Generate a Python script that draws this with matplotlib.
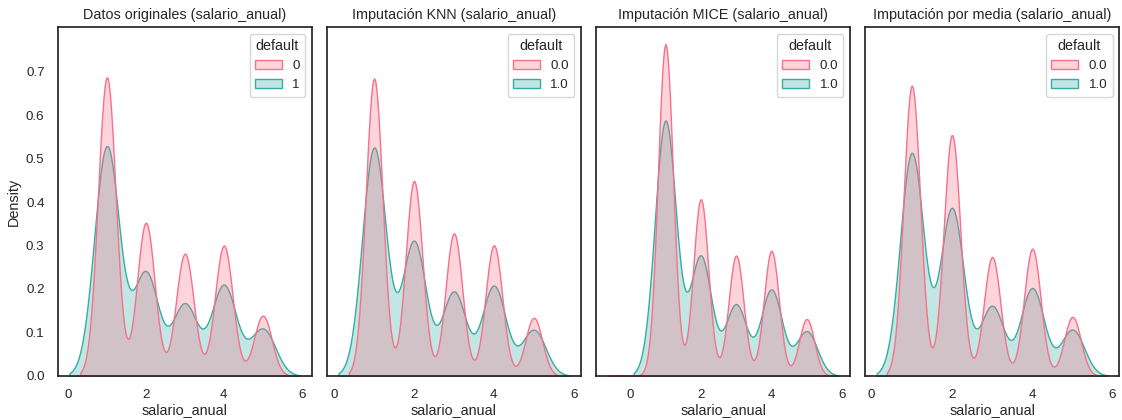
import numpy as np
import pandas as pd
import matplotlib
matplotlib.use("Agg")
import matplotlib.pyplot as plt
import seaborn as sns

# salario_anual tramos (0 only appears after MICE imputation)
salario_valores = [0, 1, 2, 3, 4, 5]

# row counts per tramo, split by default = 0 / default = 1
orig_default0 = [0, 2929, 1502, 1199, 1279, 591]
orig_default1 = [0, 636, 285, 198, 251, 130]

knn_default0 = [0, 3249, 2130, 1557, 1428, 635]
knn_default1 = [0, 705, 415, 259, 278, 142]

mice_default0 = [1, 3681, 1962, 1336, 1389, 632]
mice_default1 = [0, 797, 373, 222, 269, 139]

media_default0 = [0, 3124, 2592, 1280, 1369, 635]
media_default1 = [0, 676, 508, 211, 266, 140]

titulos = [
    "Datos originales (salario_anual)",
    "Imputación KNN (salario_anual)",
    "Imputación MICE (salario_anual)",
    "Imputación por media (salario_anual)",
]


def armar_df(c0, c1, etiquetas):
    x = np.concatenate([np.repeat(salario_valores, c0), np.repeat(salario_valores, c1)])
    y = np.concatenate([np.full(sum(c0), etiquetas[0]), np.full(sum(c1), etiquetas[1])])
    return pd.DataFrame({"salario_anual": x.astype(float), "default": y})


dfs = [
    armar_df(orig_default0, orig_default1, [0, 1]),
    armar_df(knn_default0, knn_default1, [0.0, 1.0]),
    armar_df(mice_default0, mice_default1, [0.0, 1.0]),
    armar_df(media_default0, media_default1, [0.0, 1.0]),
]

sns.set_theme(style="white")
plt.rcParams["font.family"] = ["Liberation Sans", "DejaVu Sans"]
plt.rcParams["axes.titlesize"] = 10.4
plt.rcParams["axes.labelsize"] = 10.4
plt.rcParams["xtick.labelsize"] = 9.6
plt.rcParams["ytick.labelsize"] = 9.6
plt.rcParams["legend.fontsize"] = 9.6
plt.rcParams["legend.title_fontsize"] = 10.4

fig, axes = plt.subplots(1, 4, figsize=(11.22, 4.2), dpi=100, sharey=True)

for ax, df, titulo in zip(axes, dfs, titulos):
    sns.kdeplot(data=df, x="salario_anual", hue="default", fill=True,
                common_norm=False, palette="husl", alpha=0.3, ax=ax)
    ax.set_title(titulo)
    ax.set_xlabel("salario_anual", labelpad=1.5)

axes[0].set_ylabel("Density")
axes[0].set_yticks(np.arange(0, 0.71, 0.1))

plt.subplots_adjust(left=0.0515, right=0.9975, top=0.935, bottom=0.105, wspace=0.059)
plt.savefig("out.png", dpi=100)
